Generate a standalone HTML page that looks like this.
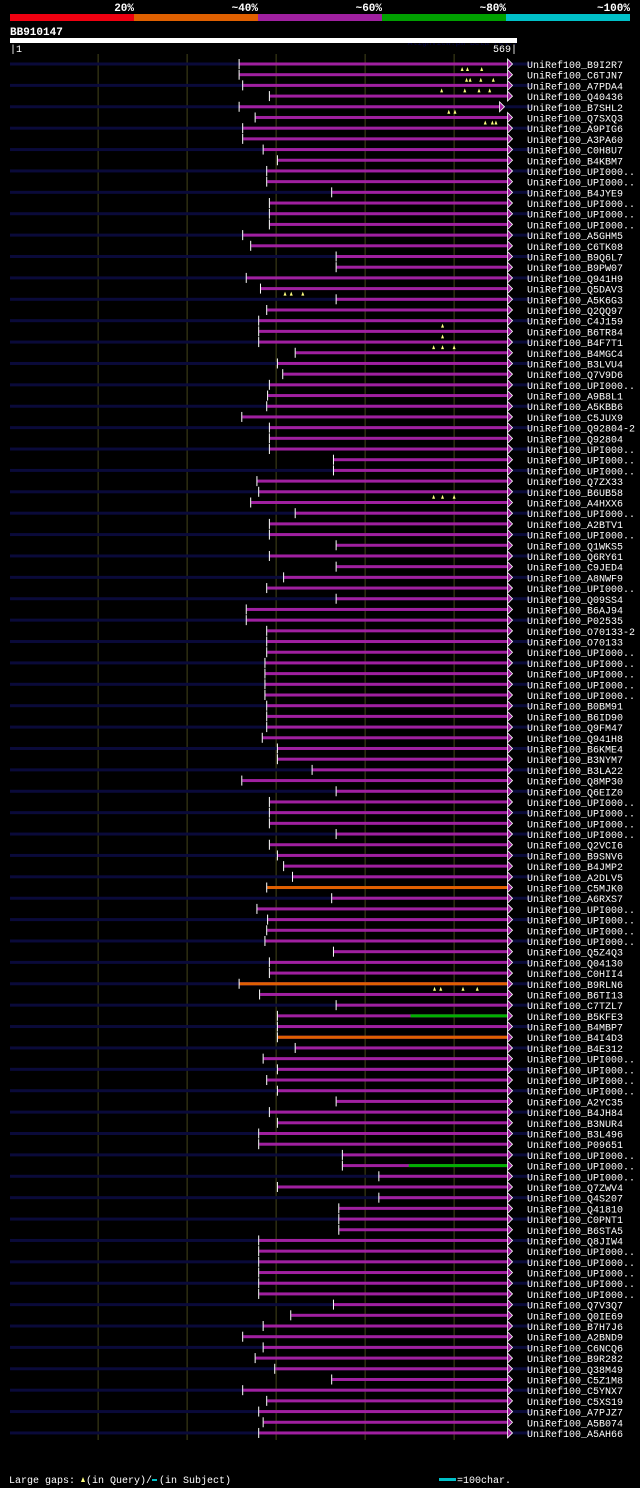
<!DOCTYPE html>
<html><head><meta charset="utf-8"><style>
body{margin:0;background:#000;width:640px;height:1488px;overflow:hidden}
svg{display:block}
text{font-family:"Liberation Mono","DejaVu Sans Mono",monospace}
</style></head><body>
<svg id="c" width="640" height="1488" viewBox="0 0 640 1488">
<g>
<rect x="10" y="14" width="124" height="7" fill="#f00010"/>
<rect x="134" y="14" width="124" height="7" fill="#e06000"/>
<rect x="258" y="14" width="124" height="7" fill="#a020a0"/>
<rect x="382" y="14" width="124" height="7" fill="#00a000"/>
<rect x="506" y="14" width="124" height="7" fill="#00c0c8"/>
<g fill="#fff" font-size="11" font-weight="bold" text-anchor="end">
<text x="134" y="11">20%</text><text x="258" y="11">~40%</text><text x="382" y="11">~60%</text><text x="506" y="11">~80%</text><text x="630" y="11">~100%</text>
</g></g>
<text x="10" y="35" fill="#fff" font-size="11" font-weight="bold">BB910147</text>
<text x="518" y="45" fill="#000040" font-size="8" text-anchor="end">AlignView.pm Beta rel.7</text>
<rect x="10" y="38" width="507" height="5" fill="#fff"/>
<text x="10" y="52" fill="#fff" font-size="10">|1</text>
<text x="517" y="52" fill="#fff" font-size="10" text-anchor="end">569|</text>
<g id="grid"></g><g id="rows"></g>
<g>
<text x="9" y="1483" fill="#fff" font-size="10">Large gaps:</text>
<path d="M81 1482 l2 -5 l2 5z" fill="#ffff80"/>
<text x="86" y="1483" fill="#fff" font-size="10">(in Query)/</text>
<rect x="152" y="1479" width="5" height="2" fill="#00c0c8"/>
<text x="159" y="1483" fill="#fff" font-size="10">(in Subject)</text>
<rect x="439" y="1478" width="17" height="3" fill="#00c0c8"/>
<text x="457" y="1483" fill="#fff" font-size="10">=100char.</text>
</g>
</svg>
<script>
const names=["B9I2R7","C6TJN7","A7PDA4","Q40436","B7SHL2","Q7SXQ3","A9PIG6","A3PA60","C0H8U7","B4KBM7","UPI000..","UPI000..","B4JYE9","UPI000..","UPI000..","UPI000..","A5GHM5","C6TK08","B9Q6L7","B9PW07","Q941H9","Q5DAV3","A5K6G3","Q2QQ97","C4J159","B6TR84","B4F7T1","B4MGC4","B3LVU4","Q7V9D6","UPI000..","A9B8L1","A5KBB6","C5JUX9","Q92804-2","Q92804","UPI000..","UPI000..","UPI000..","Q7ZX33","B6UB58","A4HXX6","UPI000..","A2BTV1","UPI000..","Q1WKS5","Q6RY61","C9JED4","A8NWF9","UPI000..","Q09SS4","B6AJ94","P02535","O70133-2","O70133","UPI000..","UPI000..","UPI000..","UPI000..","UPI000..","B0BM91","B6ID90","Q9FM47","Q941H8","B6KME4","B3NYM7","B3LA22","Q8MP30","Q6EIZ0","UPI000..","UPI000..","UPI000..","UPI000..","Q2VCI6","B9SNV6","B4JMP2","A2DLV5","C5MJK0","A6RXS7","UPI000..","UPI000..","UPI000..","UPI000..","Q5Z4Q3","Q04130","C0HII4","B9RLN6","B6TI13","C7TZL7","B5KFE3","B4MBP7","B4I4D3","B4E312","UPI000..","UPI000..","UPI000..","UPI000..","A2YC35","B4JH84","B3NUR4","B3L496","P09651","UPI000..","UPI000..","UPI000..","Q7ZWV4","Q4S207","Q41810","C0PNT1","B6STA5","Q8JIW4","UPI000..","UPI000..","UPI000..","UPI000..","UPI000..","Q7V3Q7","Q0IE69","B7H7J6","A2BND9","C6NCQ6","B9R282","Q38M49","C5Z1M8","C5YNX7","C5XS19","A7PJZ7","A5B074","A5AH66"];
// alignment start positions in query residues (1..569)
const starts=[259,259,263,293,259,277,263,263,286,302,290,290,363,293,293,293,263,272,368,368,267,283,368,290,281,281,281,322,302,308,293,291,290,262,293,293,293,365,365,279,281,272,322,293,293,368,293,368,309,290,368,267,267,290,290,290,288,288,288,288,290,290,290,285,302,302,341,262,368,293,293,293,368,293,302,309,319,290,363,279,291,290,288,365,293,293,259,282,368,302,302,302,322,286,302,290,302,368,293,302,281,281,375,375,416,302,416,371,371,371,281,281,281,281,281,281,365,317,286,263,286,277,299,363,263,290,281,286,281];
const ends=[560,560,560,560,551,560,560,560,560,560,560,560,560,560,560,560,560,560,560,560,560,560,560,560,560,560,560,560,560,560,560,560,560,560,560,560,560,560,560,560,560,560,560,560,560,560,560,560,560,560,560,560,560,560,560,560,560,560,560,560,560,560,560,560,560,560,560,560,560,560,560,560,560,560,560,560,560,560,560,560,560,560,560,560,560,560,560,560,560,560,560,560,560,560,560,560,560,560,560,560,560,560,560,560,560,560,560,560,560,560,560,560,560,560,560,560,560,560,560,560,560,560,560,560,560,560,560,560,560];
// special colour segments: [row, from residue, colour]
const segments=[[77,290,"#e06000"],[86,259,"#e06000"],[89,451,"#00b000"],[91,302,"#e06000"],[103,449,"#00b000"]];
// query gaps: [row, residue]
const gaps=[[0,509],[0,515],[0,531],[1,514],[1,518],[1,530],[1,544],[2,486],[2,512],[2,528],[2,540],[4,494],[4,501],[5,535],[5,543],[5,547],[21,310],[21,317],[21,330],[24,487],[25,487],[26,477],[26,487],[26,500],[40,477],[40,487],[40,500],[86,478],[86,485],[86,510],[86,526]];
const X0=10,PX=0.89;
function xs(r){return X0+(r-1)*PX;}
const Y0=64,DY=10.695;
function ys(i){return Y0+i*DY;}
const NS="http://www.w3.org/2000/svg";
function mk(tag,attrs,parent){const e=document.createElementNS(NS,tag);for(const k in attrs)e.setAttribute(k,attrs[k]);parent.appendChild(e);return e;}
const grid=document.getElementById('grid');
[100,200,300,400,500].forEach(v=>{
 const l=mk('line',{x1:xs(v),x2:xs(v),y1:54,y2:1440,stroke:'#44441a','stroke-width':1},grid);
 
 
});
const rows=document.getElementById('rows');
names.forEach((n,i)=>{
 const g=mk('g',{},rows);
 
 
 const y=ys(i);
 if(i%2===0){mk('rect',{x:10,y:y-1.5,width:522,height:3,fill:'#0a0a3a'},g);}
 const s=xs(starts[i]),e=xs(ends[i]);
 const b=mk('rect',{x:s,y:y-1.5,width:e-s,height:3,fill:'#a020a0'},g);
 
 
 segments.filter(t=>t[0]===i).forEach(t=>{const a=Math.max(s,xs(t[1]));mk('rect',{x:a,y:y-1.5,width:e-a,height:3,fill:t[2]},g);});
 mk('rect',{x:s-1,y:y-5,width:1,height:10,fill:'#fff'},g);
 mk('path',{d:`M${e} ${y-5} L${e+5} ${y} L${e} ${y+5}Z`,fill:'#a020a0',stroke:'#fff','stroke-width':0.8},g);
 gaps.filter(t=>t[0]===i).forEach(t=>{mk('path',{d:`M${xs(t[1])-1.5} ${y+7} l1.5 -4 l1.5 4z`,fill:'#ffff80'},g);});
 const t=mk('text',{x:527,y:y+4,fill:'#fff','font-size':10},g);
 t.textContent='UniRef100_'+n;
 
 
});
</script>
</body></html>
